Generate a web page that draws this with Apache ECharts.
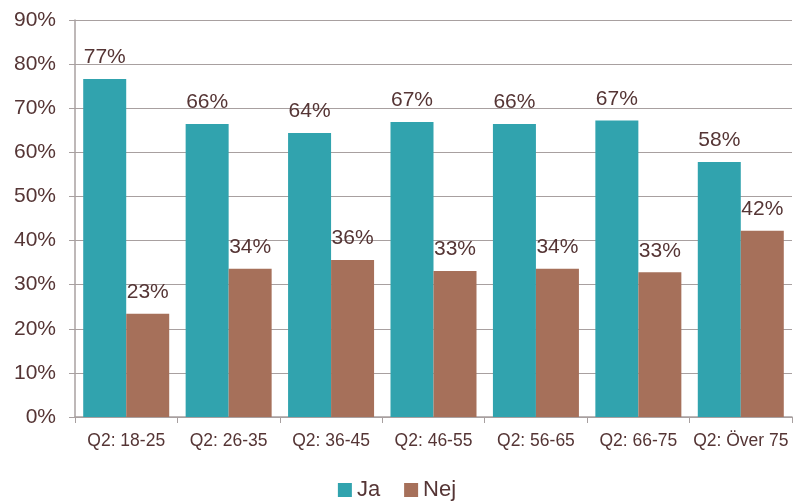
<!DOCTYPE html>
<html>
<head>
<meta charset="utf-8">
<script src="https://cdn.jsdelivr.net/npm/echarts@6/dist/echarts.min.js"></script>
<style>
  html, body { margin: 0; padding: 0; background: #fff; }
  #chart { width: 794px; height: 502px; }
</style>
</head>
<body>
<div id="chart"></div>
<script>
var categories = ['Q2: 18-25', 'Q2: 26-35', 'Q2: 36-45', 'Q2: 46-55', 'Q2: 56-65', 'Q2: 66-75', 'Q2: Över 75'];
var ja = [76.6, 66.4, 64.4, 66.9, 66.4, 67.2, 57.8];
var nej = [23.4, 33.6, 35.6, 33.1, 33.6, 32.8, 42.2];
var yTicks = [0, 10, 20, 30, 40, 50, 60, 70, 80, 90];

var textColor = '#553535';
var chart = echarts.init(document.getElementById('chart'));

var labelStyle = {
    show: true,
    position: 'top',
    distance: 11,
    color: textColor,
    fontSize: 21,
    fontFamily: 'Liberation Sans, Arial, sans-serif',
    formatter: function (p) { return Math.round(p.value) + '%'; }
};

var option = {
    animation: false,
    backgroundColor: '#fff',
    textStyle: { fontFamily: 'Liberation Sans, Arial, sans-serif' },
    grid: { left: 75, right: 2, top: 20, bottom: 85, containLabel: false },
    legend: {
        data: ['Ja', 'Nej'],
        top: 474,
        left: 'center',
        itemWidth: 14,
        itemHeight: 14,
        itemGap: 24,
        icon: 'rect',
        textStyle: { color: textColor, fontSize: 22, padding: [0, 0, 0, 0] }
    },
    xAxis: {
        type: 'category',
        data: categories,
        axisLine: { lineStyle: { color: '#a8a0a0', width: 1.5 } },
        axisTick: { show: true, length: 6, lineStyle: { color: '#a8a0a0' } },
        axisLabel: { color: textColor, fontSize: 17.5, margin: 15, interval: 0 }
    },
    yAxis: {
        type: 'value',
        min: yTicks[0],
        max: yTicks[yTicks.length - 1],
        interval: 10,
        axisLine: { show: true, lineStyle: { color: '#a8a0a0', width: 1.5 } },
        axisTick: { show: true, length: 6, lineStyle: { color: '#a8a0a0' } },
        axisLabel: { color: textColor, fontSize: 21, margin: 19, formatter: '{value}%' },
        splitLine: { lineStyle: { color: '#a8a0a0', width: 1.2 } }
    },
    series: [
        {
            name: 'Ja',
            type: 'bar',
            data: ja,
            barWidth: 43,
            barGap: '0%',
            itemStyle: { color: '#31a3ae' },
            label: labelStyle
        },
        {
            name: 'Nej',
            type: 'bar',
            data: nej,
            barWidth: 43,
            barGap: '0%',
            itemStyle: { color: '#a6705a' },
            label: labelStyle
        }
    ]
};

chart.setOption(option);
</script>
</body>
</html>
